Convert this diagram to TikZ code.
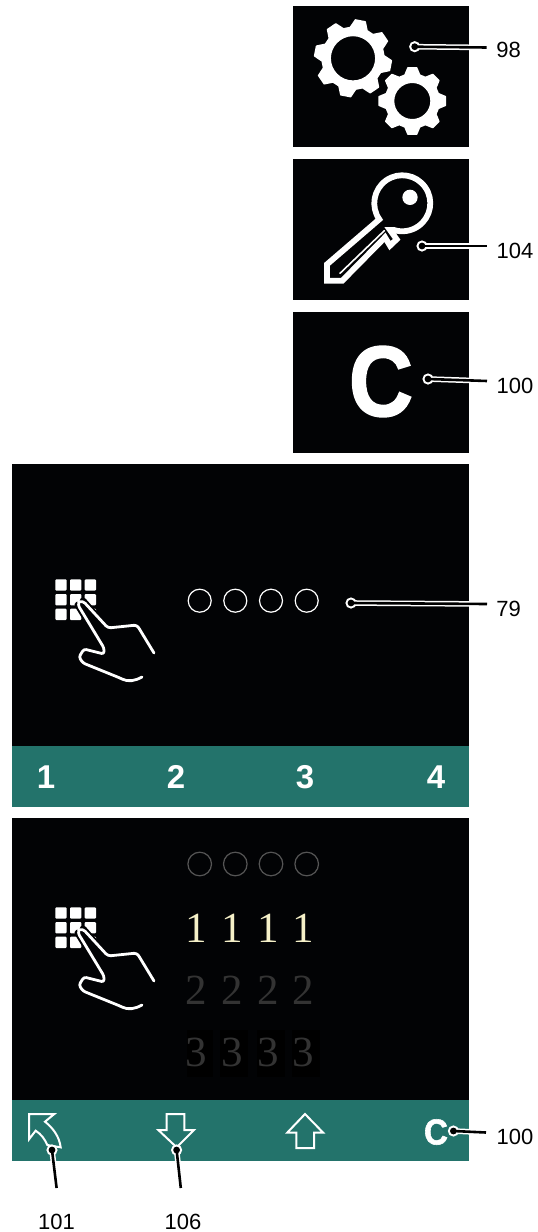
\documentclass[tikz,border=0pt]{standalone}
\usepackage{fontspec}
\setmainfont{Liberation Sans}
\newfontfamily\serifnum{Liberation Serif}
\newfontfamily\heavyfont[FakeBold=1.6]{Liberation Sans Bold}
\usetikzlibrary{calc}
\definecolor{teal}{HTML}{23736B}
\definecolor{panelk}{HTML}{020305}
\definecolor{creamd}{HTML}{F5F0C8}
\definecolor{dimd}{HTML}{333333}
\definecolor{dimc}{HTML}{555555}
\definecolor{darkbox}{HTML}{000000}
\tikzset{
 panel/.style={fill=panelk,draw=none},
 bar/.style={fill=teal,draw=none},
 num/.style={font=\fontsize{22}{22}\selectfont,text=black,inner sep=0pt},
 barnum/.style={font=\fontsize{33}{33}\selectfont\bfseries,text=white,inner sep=0pt},
 icon/.style={draw=white,line join=round,line cap=round},
 ring/.style={draw=white,line width=1.2pt},
 dimring/.style={draw=dimc,line width=1.2pt},
 dig/.style={font=\fontsize{43}{43}\selectfont\serifnum,inner sep=0pt},
}
\newcommand{\leaderline}[2]{%
 \draw[white,line width=5.6pt,line cap=round] (#1) -- (#2);
 \fill[white] (#1) circle (5.6);
 \draw[black,line width=2.6pt] (#1) -- (#2);
 \fill[black] (#1) circle (3.4);
}
\newcommand{\gearshape}[6]{% cx cy R r rot hole
 \fill[white,even odd rule,line join=round,draw=white,line width=1.4pt]
  \foreach \k in {0,...,7}{
   \ifnum\k=0 ($(#1,#2)+(#5-7.5:#3)$) \else -- ($(#1,#2)+(#5+\k*45-7.5:#3)$) \fi
   -- ($(#1,#2)+(#5+\k*45+7.5:#3)$)
   -- ($(#1,#2)+(#5+\k*45+16:#4)$)
   -- ($(#1,#2)+(#5+\k*45+29:#4)$)
  } -- cycle
  (#1,#2) circle (#6);
}
\newcommand{\handicon}[2]{%
 \begin{scope}[shift={(#1,#2)}]
  \foreach \c in {0,1,2}\foreach \r in {0,1,2}{
   \fill[white,rounded corners=1pt] (25.3+\c*14.7,19.3+\r*14.7) rectangle ++(11.3,11.3);
  }
  \fill[panelk] (48,45) -- (53,41) -- (78,68) -- (74,88) -- cycle;
  \draw[panelk,line width=7pt,line cap=round] (48,45) -- (66,74);
  \draw[panelk,line width=7pt,line cap=round] (53,41) -- (68,58);
  \draw[icon,line width=2.8pt,rounded corners=2.5pt] (49,42) -- (48,45) -- (74,88) -- (74,94) -- (54,89) -- (49,97) -- (53,103) -- (90,118)
    .. controls (98,122) and (105,121) .. (112,117);
  \draw[icon,line width=2.8pt,rounded corners=3pt] (49,42) -- (53,41) -- (78,68) -- (107,65) -- (124,93);
 \end{scope}
}
\begin{document}
\begin{tikzpicture}[x=1pt,y=-1pt]
\useasboundingbox (0,0) rectangle (538,1232);
\fill[white] (0,0) rectangle (538,1232);
% panels
\fill[panel] (293,6) rectangle (469,147);
\fill[panel] (293,159) rectangle (469,300);
\fill[panel] (293,312) rectangle (469,453);
\fill[panel] (12,464) rectangle (469,746);
\fill[bar] (12,746) rectangle (469,807);
\fill[panel] (12,818) rectangle (469,1100);
\fill[bar] (12,1100) rectangle (469,1161);
% gears
\gearshape{353}{58.3}{38.5}{31}{11}{22.8}
\gearshape{412.3}{101}{33.5}{27}{0}{18.7}
% key
\begin{scope}[shift={(315,180)},scale=1/3]
 \draw[icon,line width=5.8pt,line join=miter] (193,118) arc (145:468:84) -- (225,150) -- (245,178) -- (225,197) -- (210,172) -- (82,302) -- (36,302) -- (36,253) -- cycle;
 \draw[icon,line width=1.6pt,line join=miter] (75,280) -- (208,152);
 \fill[white] (285,52) circle (23);
\end{scope}
% C
\node[inner sep=0pt,text=white,font=\fontsize{100}{100}\heavyfont,xscale=.89] (bigc) at (381,381.5) {C};
% hands
\handicon{30}{560}
\handicon{30}{888}
% rings
\foreach \x [count=\i] in {199.7,235.3,271,306.7}{
 \draw[ring] (\x,600.7) circle (11.5);
 \draw[dimring] (\x,864) circle (11.8);
}
% digit columns
\fill[darkbox] (186.7,1030) rectangle (213,1076.7);
\fill[darkbox] (220,1030) rectangle (248,1076.7);
\fill[darkbox] (256.7,1030) rectangle (285,1076.7);
\fill[darkbox] (291.7,1030) rectangle (320,1076.7);
\foreach \x [count=\i] in {196.7,232.3,268.3,303.3}{
 \node[dig,text=creamd] (one\i) at (\x,928) {1};
 \node[dig,text=dimd] (two\i) at (\x,990) {2};
 \node[dig,text=dimd] (three\i) at (\x,1052.7) {3};
}
% bar digits
\node[barnum] (b1) at (46,777) {1};
\node[barnum] (b2) at (176,777) {2};
\node[barnum] (b3) at (305,777) {3};
\node[barnum] (b4) at (436,777) {4};
% bar icons
\begin{scope}[shift={(15,1100)},scale=1/3]
 \draw[icon,line width=2pt,line join=miter] (42,42) -- (118,42) -- (90,65) .. controls (115,85) and (133,110) .. (137,142) -- (97,135) .. controls (90,118) and (78,102) .. (62,92) -- (42,118) -- cycle;
 \draw[icon,line width=2pt,line join=miter] (455,42) -- (508,42) -- (508,90) -- (537,90) -- (485,142) -- (430,90) -- (455,90) -- cycle;
\end{scope}
\draw[icon,line width=2pt,line join=miter] (296.4,1148) -- (314,1148) -- (314,1132.5) -- (323,1132.5) -- (305,1114) -- (287.4,1132.5) -- (296.4,1132.5) -- cycle;
\node[inner sep=0pt,text=white,font=\fontsize{36}{36}\heavyfont,xscale=.92] (smallc) at (436,1132) {C};
% leaders
\node[num] (n98) at (508.5,50) {98};
\coordinate (d98) at (414.7,46.7);\coordinate (e98) at (486.7,47.5);
\leaderline{d98}{e98}
\node[num] (n104) at (515,251) {104};
\coordinate (d104) at (422,246);\coordinate (e104) at (486.7,246);
\leaderline{d104}{e104}
\node[num] (n100a) at (515,386) {100};
\coordinate (d100) at (428,379);\coordinate (e100) at (487,381);
\leaderline{d100}{e100}
\node[num] (n79) at (508.5,609) {79};
\coordinate (d79) at (351,603);\coordinate (e79) at (487,604);
\leaderline{d79}{e79}
\node[num] (n100b) at (515,1137) {100};
\coordinate (d100b) at (453.4,1131);\coordinate (e100b) at (486,1132.5);
\leaderline{d100b}{e100b}
\node[num] (n101) at (56.6,1222) {101};
\coordinate (d101) at (52,1150);\coordinate (e101) at (56.6,1188);
\leaderline{d101}{e101}
\node[num] (n106) at (183,1222) {106};
\coordinate (d106) at (176.6,1150);\coordinate (e106) at (180.8,1188);
\leaderline{d106}{e106}
\end{tikzpicture}
\end{document}
